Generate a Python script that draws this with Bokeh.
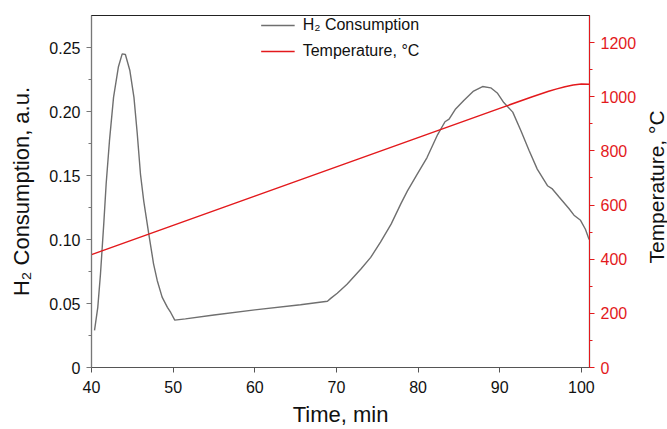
import math
from bokeh.plotting import figure
from bokeh.layouts import row
from bokeh.models import (Range1d, LinearAxis, FixedTicker, CustomJSTickFormatter,
                          Legend, LegendItem, ColumnDataSource, Label)
from bokeh.embed import file_html
from bokeh.resources import INLINE

# ---- data ----
time_h2 = [40.37, 40.77, 41.1, 41.5, 41.8, 42.2, 42.7, 43.3, 43.76, 44.15, 44.7, 45.2,
           45.6, 46.0, 46.4, 47.0, 47.6, 48.05, 48.65, 49.3, 49.7, 50.2, 51.5, 55.0,
           60.0, 65.6, 68.9, 69.3, 70.1, 71.3, 73.0, 74.2, 75.4, 76.7, 77.9, 78.7,
           79.9, 81.1, 82.4, 83.3, 83.8, 84.6, 85.6, 86.8, 87.9, 88.9, 89.7, 90.5,
           91.6, 92.6, 93.6, 94.6, 95.85, 96.45, 97.3, 98.5, 99.1, 99.9, 100.5, 100.95]
h2_consumption = [0.029, 0.047, 0.073, 0.112, 0.144, 0.177, 0.211, 0.235, 0.245, 0.2445,
                  0.232, 0.211, 0.183, 0.151, 0.130, 0.105, 0.081, 0.068, 0.055, 0.047,
                  0.043, 0.037, 0.038, 0.041, 0.045, 0.049, 0.0518, 0.054, 0.058, 0.065,
                  0.077, 0.086, 0.098, 0.112, 0.128, 0.138, 0.151, 0.164, 0.182, 0.192,
                  0.194, 0.202, 0.2086, 0.216, 0.2195, 0.2185, 0.2145, 0.207, 0.1995,
                  0.185, 0.1695, 0.155, 0.142, 0.1395, 0.133, 0.124, 0.119, 0.115,
                  0.108, 0.100]
time_temp = [40, 50, 60, 70, 80, 90, 94, 95, 96, 97, 98, 99, 100, 101]
temperature = [417, 525, 633, 741, 849, 957, 1000, 1010, 1020, 1029, 1037, 1043, 1047, 1046]

x_ticks = [40, 50, 60, 70, 80, 90, 100]
h2_ticks = [0, 0.05, 0.10, 0.15, 0.20, 0.25]
h2_minor = [0.025, 0.075, 0.125, 0.175, 0.225]
t_ticks = [0, 200, 400, 600, 800, 1000, 1200]
t_minor = [100, 300, 500, 700, 900, 1100]

FONT = "Liberation Sans"
GRAY = "#6f6f6f"
RED = "#e3191c"

p = figure(frame_width=498, frame_height=352, output_backend="svg", toolbar_location=None,
           x_range=Range1d(40, 101), y_range=Range1d(0, 0.275),
           min_border_left=91, min_border_right=48, min_border_top=15,
           min_border_bottom=62)
p.grid.visible = False
p.outline_line_color = "#222222"
p.outline_line_width = 1.2
p.background_fill_color = "white"
p.border_fill_color = "white"

p.extra_y_ranges = {"temp": Range1d(0, 1300)}

# x axis
xa = p.xaxis[0]
xa.ticker = FixedTicker(ticks=x_ticks)
xa.minor_tick_line_color = None
xa.axis_label = "Time, min"
xa.axis_line_color = "#555555"
xa.major_tick_line_color = "#555555"
xa.major_tick_out = 5
xa.major_tick_in = 0
xa.major_label_text_font = FONT
xa.major_label_text_font_size = "16px"
xa.major_label_text_color = "#111111"
xa.major_label_standoff = 8
xa.axis_label_text_font = FONT
xa.axis_label_text_font_size = "22px"
xa.axis_label_text_font_style = "normal"
xa.axis_label_text_color = "#111111"
xa.axis_label_standoff = 6

# left axis
ya = p.yaxis[0]
ya.ticker = FixedTicker(ticks=h2_ticks, minor_ticks=h2_minor)
ya.formatter = CustomJSTickFormatter(code="return tick == 0 ? '0' : tick.toFixed(2);")
ya.axis_label = "H₂ Consumption, a.u."
ya.axis_line_color = "#777777"
ya.major_tick_line_color = "#777777"
ya.minor_tick_line_color = "#777777"
ya.major_tick_out = 5
ya.major_tick_in = 0
ya.minor_tick_out = 3
ya.minor_tick_in = 0
ya.major_label_text_font = FONT
ya.major_label_text_font_size = "16px"
ya.major_label_text_color = "#111111"
ya.major_label_standoff = 6
ya.axis_label_text_font = FONT
ya.axis_label_text_font_size = "22px"
ya.axis_label_text_font_style = "normal"
ya.axis_label_text_color = "#111111"
ya.axis_label_standoff = 12

# right axis (temperature)
ra = LinearAxis(y_range_name="temp")
ra.ticker = FixedTicker(ticks=t_ticks, minor_ticks=t_minor)
ra.axis_line_color = RED
ra.major_tick_line_color = RED
ra.minor_tick_line_color = RED
ra.major_tick_out = 5
ra.major_tick_in = 0
ra.minor_tick_out = 3
ra.minor_tick_in = 0
ra.major_label_text_font = FONT
ra.major_label_text_font_size = "16px"
ra.major_label_text_color = RED
ra.major_label_standoff = 6
p.add_layout(ra, "right")

src_h2 = ColumnDataSource(dict(x=time_h2, y=h2_consumption))
src_t = ColumnDataSource(dict(x=time_temp, y=temperature))
r1 = p.line("x", "y", source=src_h2, line_color=GRAY, line_width=1.4)
r2 = p.line("x", "y", source=src_t, line_color=RED, line_width=1.5, y_range_name="temp")

legend = Legend(items=[LegendItem(label="H₂ Consumption", renderers=[r1]),
                       LegendItem(label="Temperature, °C", renderers=[r2])],
                location="top_center", margin=0, padding=7, spacing=6,
                glyph_width=34, glyph_height=20, label_height=20, label_standoff=8,
                label_text_font=FONT, label_text_font_size="16px",
                label_text_color="#111111", border_line_color=None,
                background_fill_alpha=0)
p.add_layout(legend, "center")

# narrow strip on the right carrying the right-axis title (reads bottom-to-top)
p2 = figure(width=30, height=429, output_backend="svg", toolbar_location=None,
            x_range=Range1d(0, 30), y_range=Range1d(0, 429),
            x_axis_location=None, y_axis_location=None,
            min_border_left=0, min_border_right=0, min_border_top=0, min_border_bottom=0)
p2.grid.visible = False
p2.outline_line_color = None
p2.background_fill_color = "white"
p2.border_fill_color = "white"
p2.add_layout(Label(x=17, y=220, text="Temperature, °C", angle=math.pi / 2,
                    text_align="center", text_baseline="middle",
                    text_font=FONT, text_font_size="21px", text_color="#111111"))

layout = row(p, p2, spacing=0)
open("out.html", "w").write(file_html(layout, INLINE))
